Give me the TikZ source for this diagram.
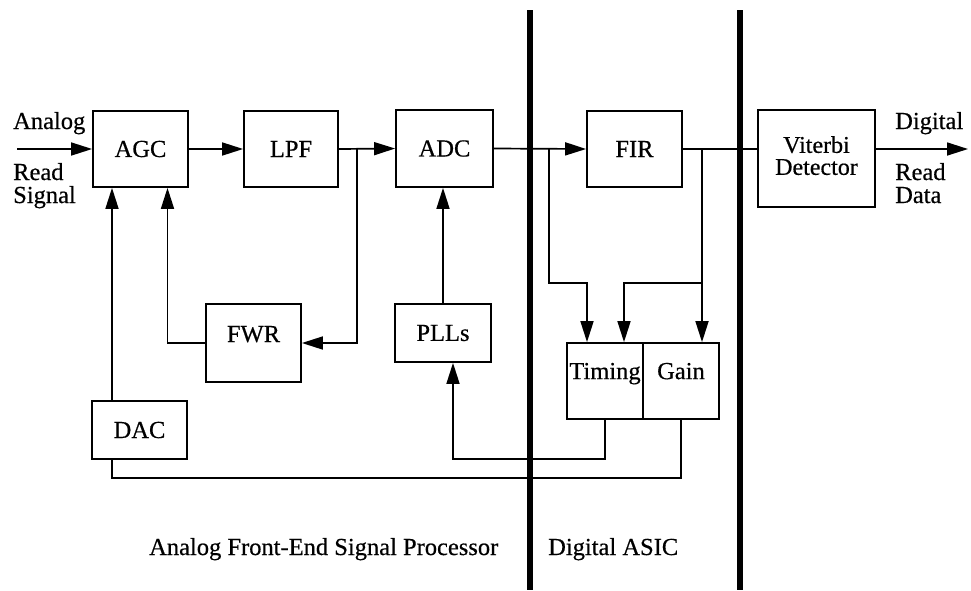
\documentclass[tikz,border=0pt]{standalone}
\usepackage{fontspec}
\setmainfont[FakeBold=0.5]{Liberation Serif}
\usetikzlibrary{arrows.meta}
\begin{document}
\begin{tikzpicture}[x=1pt,y=-1pt,
  font=\fontsize{24.5}{20}\selectfont,
  box/.style={draw,line width=1.8pt,inner sep=0pt,align=center},
  wire/.style={line width=1.7pt},
  arr/.style={wire,-{Triangle[length=21pt,width=13pt]}},
  bar/.style={line width=6.5pt}]
\useasboundingbox (0,0) rectangle (971,590);
% boxes
\node[box,minimum width=95pt,minimum height=76pt] (AGC) at (140.5,149) {AGC};
\node[box,minimum width=94pt,minimum height=76pt] (LPF) at (291,149) {LPF};
\node[box,minimum width=97pt,minimum height=77pt] (ADC) at (444.5,148.5) {ADC};
\node[box,minimum width=95pt,minimum height=76pt] (FIR) at (634.5,149) {FIR};
\node[box,minimum width=117pt,minimum height=97pt,font=\fontsize{24}{22}\selectfont,text depth=6pt] (VIT) at (816.5,158.5) {Viterbi\\Detector};
\node[box,minimum width=95pt,minimum height=78pt,text depth=18pt] (FWR) at (253.5,343) {FWR};
\node[box,minimum width=96pt,minimum height=58pt] (PLL) at (443,333) {PLLs};
\node[box,minimum width=95pt,minimum height=58pt] (DAC) at (139.5,430) {DAC};
\node[box,minimum width=76pt,minimum height=76pt,text depth=20pt] (TIM) at (605,381) {Timing};
\node[box,minimum width=76pt,minimum height=76pt,text depth=20pt] (GAIN) at (681,381) {Gain};
% coordinates
\coordinate (in) at (17,149);
\coordinate (out) at (968,149);
\coordinate (j1) at (357,149);
\coordinate (j2) at (549,149);
\coordinate (j3) at (702,149);
% main path
\draw[arr] (in) -- (AGC.west);
\draw[arr] (AGC.east) -- (LPF.west);
\draw[arr] (LPF.east) -- (ADC.west);
\draw[arr] (ADC.east) -- (FIR.west);
\draw[wire] (FIR.east) -- (FIR.east -| VIT.west);
\draw[arr] (VIT.east |- out) -- (out);
% feedback
\draw[arr] (j1) |- (FWR.east);
\draw[arr] (FWR.west) -| ([xshift=27pt]AGC.south);
\draw[arr] ([xshift=-27.5pt]DAC.north) -- ([xshift=-27.5pt]DAC.north |- AGC.south);
\draw[arr] (PLL.north) -- (PLL.north |- ADC.south);
\draw[arr] (TIM.south) -- ++(0,39) -| ([xshift=10pt]PLL.south);
\draw[wire] (GAIN.south) -- ++(0,58) -| ([xshift=-27.5pt]DAC.south);
\draw[arr] (j2) -- ++(0,134) -| ([xshift=-18pt]TIM.north);
\draw[arr] (j3) -- (j3 |- GAIN.north);
\draw[arr] (j3) ++(0,134) -| ([xshift=19pt]TIM.north);
% bars
\draw[bar] (530,10) -- (530,590);
\draw[bar] (740,10) -- (740,590);
% labels
\node[anchor=base west,inner sep=0pt] (l1) at (13,129) {Analog};
\node[anchor=base west,inner sep=0pt] (l2) at (13,180) {Read};
\node[anchor=base west,inner sep=0pt] (l3) at (13,203) {Signal};
\node[anchor=base west,inner sep=0pt] (r1) at (895,129) {Digital};
\node[anchor=base west,inner sep=0pt] (r2) at (895,180) {Read};
\node[anchor=base west,inner sep=0pt] (r3) at (895,203) {Data};
\node[anchor=base west,inner sep=0pt] (b1) at (149,555) {Analog Front-End Signal Processor};
\node[anchor=base west,inner sep=0pt] (b2) at (548,555) {Digital ASIC};
\end{tikzpicture}
\end{document}
